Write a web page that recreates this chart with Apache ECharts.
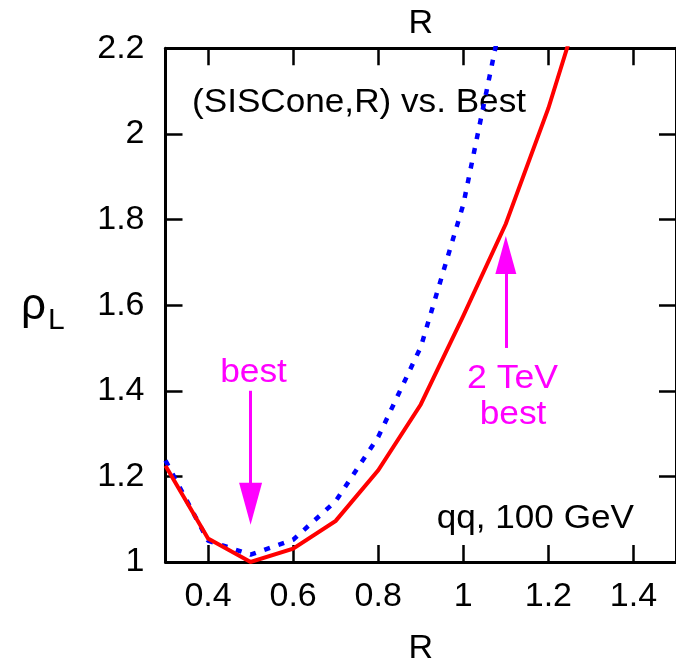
<!DOCTYPE html>
<html>
<head>
<meta charset="utf-8">
<script src="https://cdn.jsdelivr.net/npm/echarts@6/dist/echarts.min.js"></script>
<style>html,body{margin:0;padding:0;background:#fff;}#c{width:676px;height:671px;}</style>
</head>
<body>
<div id="c"></div>
<script>
// ---- data ----
const rValues = [0.3, 0.4, 0.5, 0.6, 0.7, 0.8, 0.9, 1.0, 1.1, 1.2, 1.3];
const rhoRed  = [1.225, 1.055, 1.0, 1.031, 1.096, 1.214, 1.368, 1.575, 1.79, 2.06, 2.38];
const rhoBlue = [1.237, 1.05, 1.017, 1.052, 1.142, 1.292, 1.502, 1.835, 2.32];
const xTicks = [0.4, 0.6, 0.8, 1.0, 1.2, 1.4];
const arrowBestR = 0.5, arrowBestFrom = 1.4, arrowBestHead = 1.136;
const arrow2TeVR = 1.1, arrow2TeVFrom = 1.5, arrow2TeVHead = 1.717;

const FONT = '"Liberation Sans", Arial, sans-serif';
const chart = echarts.init(document.getElementById('c'), null, {renderer: 'canvas'});
const zip = (xs, ys) => ys.map((y, i) => [xs[i], y]);
const fmt = v => String(Math.round(v * 10) / 10);

const axisLine = {show: true, lineStyle: {color: '#000', width: 3}};
const tick = {show: true, inside: true, length: 17, lineStyle: {color: '#000', width: 2.5}};
const labelStyle = {fontSize: 34, fontFamily: FONT, color: '#000'};

const option = {
  animation: false,
  backgroundColor: '#fff',
  grid: {left: 165.5, top: 48.3, width: 521.5, height: 521.7, containLabel: false},
  xAxis: [
    {type: 'value', min: 0.3, max: 1.5, position: 'bottom',
     axisLine, splitLine: {show: false},
     axisTick: Object.assign({customValues: xTicks}, tick),
     axisLabel: Object.assign({customValues: xTicks, formatter: fmt, margin: 18}, labelStyle),
     name: 'R', nameLocation: 'middle', nameGap: 70,
     nameTextStyle: labelStyle},
    {type: 'value', min: 0.3, max: 1.5, position: 'top',
     axisLine, splitLine: {show: false},
     axisTick: Object.assign({customValues: xTicks}, tick),
     axisLabel: {show: false, customValues: xTicks},
     name: 'R', nameLocation: 'middle', nameGap: 8,
     nameTextStyle: labelStyle}
  ],
  yAxis: [
    {type: 'value', min: 1, max: 2.2, interval: 0.2, position: 'left',
     axisLine, splitLine: {show: false}, axisTick: tick,
     axisLabel: Object.assign({formatter: fmt, margin: 21}, labelStyle)},
    {type: 'value', min: 1, max: 2.2, interval: 0.2, position: 'right',
     axisLine, splitLine: {show: false}, axisTick: tick,
     axisLabel: {show: false}}
  ],
  series: [
    {type: 'line', name: 'SISCone R (blue)', data: zip(rValues, rhoBlue),
     showSymbol: false, symbol: 'none', clip: true, z: 3,
     lineStyle: {color: '#0000ff', width: 4.5, type: [6, 9], cap: 'butt'}},
    {type: 'line', name: 'SISCone R (red)', data: zip(rValues, rhoRed),
     showSymbol: false, symbol: 'none', clip: true, z: 4,
     lineStyle: {color: '#ff0000', width: 4, join: 'miter'},
     markLine: {
       silent: true, symbol: ['none', 'triangle'], animation: false,
       label: {show: false},
       lineStyle: {color: '#ff00ff', width: 3, type: 'solid'},
       emphasis: {disabled: true},
       data: [
         [{coord: [arrowBestR, arrowBestFrom], symbol: 'none'},
          {coord: [arrowBestR, arrowBestHead], symbol: 'triangle', symbolSize: [23, 42]}],
         [{coord: [arrow2TeVR, arrow2TeVFrom], symbol: 'none'},
          {coord: [arrow2TeVR, arrow2TeVHead], symbol: 'triangle', symbolSize: [21, 38]}]
       ],
       itemStyle: {color: '#ff00ff'}
     }}
  ],
  graphic: [
    {type: 'text', x: 192, y: 103, scaleX: 1.065, style: {text: '(SISCone,R) vs. Best', fontSize: 33, fontFamily: FONT, fill: '#000', align: 'left', verticalAlign: 'middle'}},
    {type: 'text', x: 634, y: 519, scaleX: 1.065, style: {text: 'qq, 100 GeV', fontSize: 33, fontFamily: FONT, fill: '#000', align: 'right', verticalAlign: 'middle'}},
    {type: 'text', x: 253.5, y: 373, scaleX: 1.07, style: {text: 'best', fontSize: 33, fontFamily: FONT, fill: '#ff00ff', align: 'center', verticalAlign: 'middle'}},
    {type: 'text', x: 512.5, y: 378.5, scaleX: 1.08, style: {text: '2 TeV', fontSize: 33, fontFamily: FONT, fill: '#ff00ff', align: 'center', verticalAlign: 'middle'}},
    {type: 'text', x: 513, y: 415, scaleX: 1.07, style: {text: 'best', fontSize: 33, fontFamily: FONT, fill: '#ff00ff', align: 'center', verticalAlign: 'middle'}},
    {type: 'text', x: 21, y: 307, style: {text: 'ρ', fontSize: 44, fontFamily: FONT, fill: '#000', align: 'left', verticalAlign: 'middle'}},
    {type: 'text', x: 48, y: 321, style: {text: 'L', fontSize: 30, fontFamily: FONT, fill: '#000', align: 'left', verticalAlign: 'middle'}}
  ]
};
chart.setOption(option);
</script>
</body>
</html>
